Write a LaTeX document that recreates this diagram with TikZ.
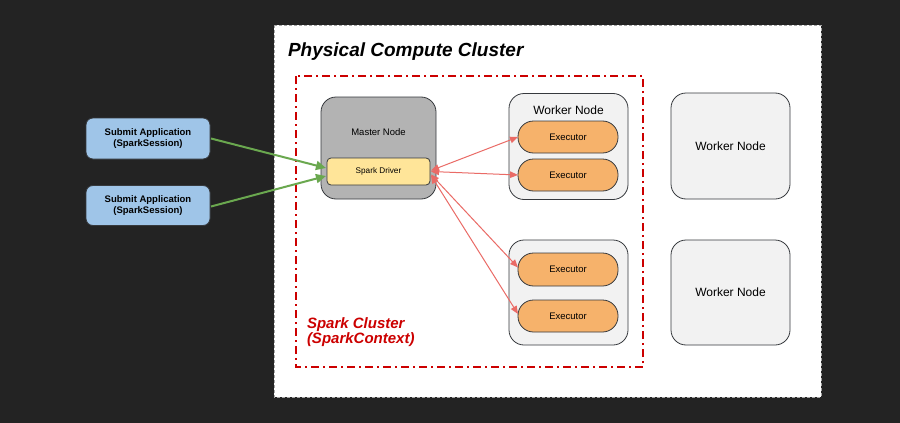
\documentclass[tikz,border=0pt]{standalone}
\usepackage{fontspec}
\setmainfont{Liberation Sans}
\usetikzlibrary{arrows.meta,calc}
\definecolor{bgdark}{HTML}{232323}
\definecolor{redline}{HTML}{CC0000}
\definecolor{redarrow}{HTML}{EA6B66}
\definecolor{greenarrow}{HTML}{6AA84F}
\definecolor{masterfill}{HTML}{B3B3B3}
\definecolor{workerfill}{HTML}{F2F2F2}
\definecolor{execfill}{HTML}{F6B26B}
\definecolor{driverfill}{HTML}{FFE599}
\definecolor{submitfill}{HTML}{9FC5E8}
\definecolor{strokedark}{HTML}{36393D}
\tikzset{
  box/.style={draw=strokedark, line width=0.8pt, inner sep=0pt, outer sep=0pt},
  workerbox/.style={box, fill=workerfill, rounded corners=15pt, minimum width=119pt},
  execbox/.style={box, fill=execfill, rounded corners=15.5pt, minimum width=100pt, minimum height=32pt, font=\fontsize{9.5}{11}\selectfont},
  submitbox/.style={box, fill=submitfill, rounded corners=7pt, minimum width=124pt, align=center, font=\fontsize{9.5}{11.5}\selectfont\bfseries},
  lbl/.style={inner sep=0pt, outer sep=0pt},
  greenarr/.style={draw=greenarrow, line width=2pt, -{Triangle[length=10pt,width=9pt]}},
  redarr/.style={draw=redarrow, line width=1pt, {Triangle[length=8pt,width=6.5pt]}-{Triangle[length=8pt,width=6.5pt]}}
}
\begin{document}
\begin{tikzpicture}[x=1pt,y=-1pt]
\fill[bgdark] (0,0) rectangle (900,423);
\useasboundingbox (0,0) rectangle (900,423);
% physical cluster
\draw[fill=white, draw=gray!70, line width=0.8pt, dash pattern=on 3pt off 2pt] (274,25) rectangle (821,397);
\node[lbl, anchor=base west, font=\fontsize{19}{22}\selectfont\bfseries\itshape] (title) at (288,56) {Physical Compute Cluster};
% spark cluster
\draw[draw=redline, line width=2pt, dash pattern=on 8pt off 4pt on 2pt off 4pt] (296,76) rectangle (643,367);
\node[lbl, anchor=base west, text=redline, font=\fontsize{15}{13.5}\selectfont\bfseries\itshape, align=left] (sclabel) at (307,343.5) {Spark Cluster\\(SparkContext)};
% master
\node[box, fill=masterfill, rounded corners=15pt, minimum width=115pt, minimum height=102pt] (master) at (378.5,148) {};
\node[lbl, font=\fontsize{9.5}{11}\selectfont] (masterlbl) at (378.5,132) {Master Node};
\node[box, fill=driverfill, rounded corners=4pt, minimum width=103pt, minimum height=27pt, font=\fontsize{8.2}{10}\selectfont] (driver) at (378.5,171.5) {Spark Driver};
% worker 1
\node[workerbox, minimum height=106pt] (w1) at (568.5,146.5) {};
\node[lbl, font=\fontsize{12}{14}\selectfont] (w1lbl) at (568.5,110.5) {Worker Node};
\node[execbox] (e1) at (568,137) {Executor};
\node[execbox] (e2) at (568,175) {Executor};
% worker 2
\node[workerbox, minimum height=105pt] (w2) at (568.5,292.5) {};
\node[execbox, minimum height=33pt] (e3) at (568,269.5) {Executor};
\node[execbox] (e4) at (568,316) {Executor};
% worker 3, 4
\node[workerbox, minimum height=106pt, font=\fontsize{12}{14}\selectfont] (w3) at (730.5,146) {Worker Node};
\node[workerbox, minimum height=105pt, font=\fontsize{12}{14}\selectfont] (w4) at (730.5,292.5) {Worker Node};
% submit
\node[submitbox, minimum height=41pt] (s1) at (148,138.5) {Submit Application\\(SparkSession)};
\node[submitbox, minimum height=40pt] (s2) at (148,205.5) {Submit Application\\(SparkSession)};
% arrows
\draw[greenarr] ($(s1.east)+(1,0)$) -- ($(driver.west)+(-1,-3.5)$);
\draw[greenarr] ($(s2.east)+(1,1)$) -- ($(driver.west)+(-1,4.5)$);
\draw[redarr] ($(driver.east)+(1,-1)$) -- (e1.west);
\draw[redarr] ($(driver.east)+(1,0)$) -- (e2.west);
\draw[redarr] ($(driver.east)+(1,3)$) -- ($(e3.west)+(0,-2)$);
\draw[redarr] ($(driver.east)+(1,4)$) -- ($(e4.west)+(0,-2)$);
\end{tikzpicture}
\end{document}
